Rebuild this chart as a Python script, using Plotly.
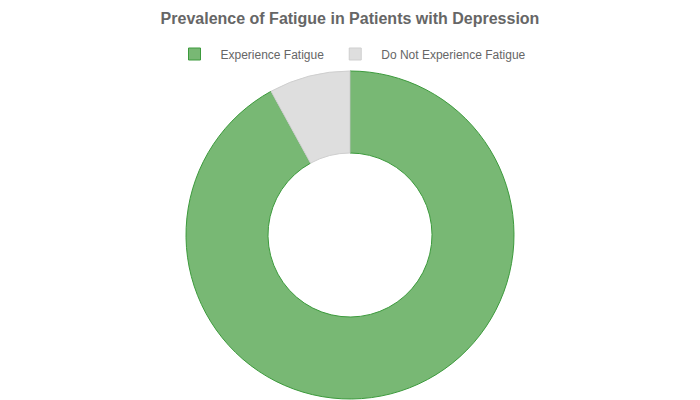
import plotly.graph_objects as go

labels = ["Experience Fatigue", "Do Not Experience Fatigue"]
values = [92, 8]
fill_colors = ["#78b874", "#dedede"]
line_colors = ["#3c9a3c", "#cfcfcf"]

fig = go.Figure()
fig.add_trace(go.Pie(
    labels=labels,
    values=values,
    hole=0.5,
    sort=False,
    direction="clockwise",
    rotation=0,
    textinfo="none",
    hoverinfo="label+value",
    marker=dict(colors=fill_colors, line=dict(color=line_colors, width=1)),
))

# page body has an 8px margin, so everything is nudged up/left by 8px
fig.update_layout(
    width=700, height=400,
    margin=dict(l=0, r=16, t=63, b=9),
    paper_bgcolor="white",
    font=dict(family="Liberation Sans, Arial, sans-serif", color="#666666", size=12),
    title=dict(text="<b>Prevalence of Fatigue in Patients with Depression</b>",
               x=0.5, xanchor="center", xref="paper", y=1 - 10 / 400, yanchor="middle",
               font=dict(size=16, color="#666666")),
    legend=dict(orientation="h", x=0.5, xanchor="center", y=1 + (63 - 46) / 328,
                yanchor="middle", font=dict(size=12, color="#666666"),
                itemwidth=42),
)

fig.write_html("out.html")
